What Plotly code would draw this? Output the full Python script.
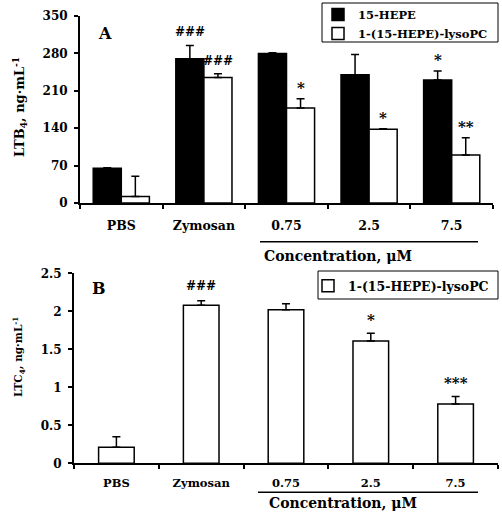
import plotly.graph_objects as go

categories = ["PBS", "Zymosan", "0.75", "2.5", "7.5"]

# Panel A: LTB4
hepe_vals = [65, 270, 280, 240, 230]
hepe_err = [1, 25, 1, 38, 17]
lyso_vals_A = [12, 235, 178, 138, 90]
lyso_err_A = [38, 7, 17, 1, 32]
sig_hepe = ["", "###", "", "", "*"]
sig_lyso_A = ["", "###", "*", "*", "**"]

# Panel B: LTC4
lyso_vals_B = [0.21, 2.08, 2.02, 1.61, 0.78]
lyso_err_B = [0.14, 0.06, 0.08, 0.10, 0.10]
sig_lyso_B = ["", "###", "", "*", "***"]

yticksA = [0, 70, 140, 210, 280, 350]
yticksB = [0, 0.5, 1, 1.5, 2, 2.5]
yticklabelsB = ["0", "0.5", "1", "1.5", "2", "2.5"]

W, H = 502, 513
FONT = "DejaVu Serif"

def px(x):
    return x / W

def py(y):
    return 1 - y / H

def f(size):
    return dict(family=FONT, size=size, color="black", weight="bold")

fig = go.Figure()

fig.add_trace(go.Bar(
    x=categories, y=hepe_vals, name="15-HEPE",
    marker=dict(color="black", line=dict(color="black", width=1.5)),
    error_y=dict(type="data", array=hepe_err, arrayminus=[0]*5, symmetric=False,
                 color="black", thickness=1.5, width=4),
    xaxis="x", yaxis="y", legend="legend",
))
fig.add_trace(go.Bar(
    x=categories, y=lyso_vals_A, name="1-(15-HEPE)-lysoPC",
    marker=dict(color="white", line=dict(color="black", width=1.5)),
    error_y=dict(type="data", array=lyso_err_A, arrayminus=[0]*5, symmetric=False,
                 color="black", thickness=1.5, width=4),
    xaxis="x", yaxis="y", legend="legend",
))
fig.add_trace(go.Bar(
    x=categories, y=lyso_vals_B, name="1-(15-HEPE)-lysoPC",
    marker=dict(color="white", line=dict(color="black", width=1.5)),
    error_y=dict(type="data", array=lyso_err_B, arrayminus=[0]*5, symmetric=False,
                 color="black", thickness=1.5, width=4),
    xaxis="x2", yaxis="y2", legend="legend2", width=0.42,
))

axis_common = dict(showgrid=False, zeroline=False, showline=True, linecolor="black",
                   linewidth=2, ticks="outside", tickcolor="black", tickwidth=1.5,
                   ticklen=4, tickangle=0, automargin=False)

n = len(categories)
fig.update_layout(
    width=W, height=H, margin=dict(l=0, r=0, t=0, b=0, autoexpand=False),
    paper_bgcolor="white", plot_bgcolor="white",
    barmode="group", bargap=0.32, bargroupgap=0,
    xaxis=dict(domain=[px(80), px(493)], anchor="y", type="category",
               categoryorder="array", categoryarray=categories,
               range=[-0.5, n - 0.5], tickson="boundaries", ticklabelstandoff=10,
               tickfont=f(12.5), **axis_common),
    yaxis=dict(domain=[py(203), py(16)], anchor="x", range=[0, 350],
               tickvals=yticksA, ticklabelstandoff=4, tickfont=f(12), **axis_common),
    xaxis2=dict(domain=[px(74), px(498)], anchor="y2", type="category",
                categoryorder="array", categoryarray=categories,
                range=[-0.5, n - 0.5], tickson="boundaries", ticklabelstandoff=8,
                tickfont=f(11.5), **axis_common),
    yaxis2=dict(domain=[py(463.3), py(273.3)], anchor="x2", range=[0, 2.5],
                tickvals=yticksB, ticktext=yticklabelsB, ticklabelstandoff=4,
                tickfont=f(12), **axis_common),
    legend=dict(x=px(318), y=py(0), xanchor="left", yanchor="top",
                borderwidth=0, bgcolor="rgba(0,0,0,0)", font=f(11.5),
                itemwidth=30, tracegroupgap=0),
    legend2=dict(x=px(308), y=py(271), xanchor="left", yanchor="top",
                 borderwidth=0, bgcolor="rgba(0,0,0,0)", font=f(12.5),
                 itemwidth=30),
    showlegend=True,
)

# legend frames
fig.add_shape(type="rect", xref="paper", yref="paper", x0=px(322), x1=px(498),
              y0=py(42), y1=py(3), line=dict(color="black", width=1))
fig.add_shape(type="rect", xref="paper", yref="paper", x0=px(318), x1=px(498),
              y0=py(299), y1=py(271), line=dict(color="black", width=1))

def sig_shift(s, base):
    return base + (4 if "#" in s else 0)

for i in range(n):
    if sig_hepe[i]:
        s = sig_hepe[i]
        fig.add_annotation(x=i, y=hepe_vals[i] + hepe_err[i], xref="x", yref="y",
                           text=s, showarrow=False, xanchor="center", yanchor="bottom",
                           xshift=-14, yshift=sig_shift(s, 0),
                           font=f(12 if "#" in s else 15))
    if sig_lyso_A[i]:
        s = sig_lyso_A[i]
        fig.add_annotation(x=i, y=lyso_vals_A[i] + lyso_err_A[i], xref="x", yref="y",
                           text=s, showarrow=False, xanchor="center", yanchor="bottom",
                           xshift=14, yshift=sig_shift(s, 0),
                           font=f(12 if "#" in s else 15))
    if sig_lyso_B[i]:
        s = sig_lyso_B[i]
        fig.add_annotation(x=i, y=lyso_vals_B[i] + lyso_err_B[i], xref="x2", yref="y2",
                           text=s, showarrow=False, xanchor="center", yanchor="bottom",
                           yshift=sig_shift(s, 2),
                           font=f(12 if "#" in s else 15))

def label(x, y, text, size, angle=0):
    fig.add_annotation(x=px(x), y=py(y), xref="paper", yref="paper", text=text,
                       showarrow=False, xanchor="center", yanchor="middle",
                       textangle=angle, font=f(size))

# panel letters
label(105, 33, "A", 16)
label(99, 288, "B", 16)

# y titles
label(20, 107, "LTB<sub>4</sub>, ng·mL<sup>-1</sup>", 13, -90)
label(19, 357, "LTC<sub>4</sub>, ng·mL<sup>-1</sup>", 10.5, -90)

# concentration underline and labels
fig.add_shape(type="line", xref="paper", yref="paper", x0=px(260), x1=px(478),
              y0=py(241.7), y1=py(241.7), line=dict(color="black", width=1.5))
label(338, 256, "Concentration, μM", 14)
fig.add_shape(type="line", xref="paper", yref="paper", x0=px(258), x1=px(478),
              y0=py(492.3), y1=py(492.3), line=dict(color="black", width=1.5))
label(343, 503, "Concentration, μM", 14)

fig.write_html("out.html", post_script="document.body.style.margin='0px';",
               config={"displayModeBar": False})
